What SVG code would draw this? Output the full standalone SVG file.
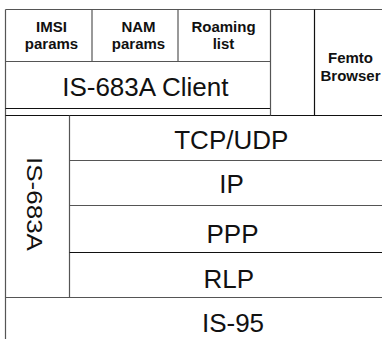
<svg xmlns="http://www.w3.org/2000/svg" width="382" height="339" viewBox="0 0 382 339">
<style>
.ln{stroke:#555;stroke-width:1.2;fill:none}
.dk{stroke:#111;stroke-width:1.2;fill:none}
.b{font-weight:bold;font-size:15px;fill:#111;text-anchor:middle}
.r{font-size:26px;fill:#111;text-anchor:middle}
</style>
<rect width="382" height="339" fill="#fff"/>
<g id="connectors">
<line class="ln" x1="5.5" y1="9.5" x2="382" y2="9.5"/>
<line class="ln" x1="5.5" y1="9.5" x2="5.5" y2="339"/>
<line class="ln" x1="92" y1="9.5" x2="92" y2="61.5"/>
<line class="ln" x1="178" y1="9.5" x2="178" y2="61.5"/>
<line class="ln" x1="5.5" y1="61.5" x2="270.5" y2="61.5"/>
<line class="dk" x1="5.5" y1="108.5" x2="270.5" y2="108.5"/>
<line class="dk" x1="5.5" y1="115.5" x2="382" y2="115.5"/>
<line class="ln" x1="270.5" y1="9.5" x2="270.5" y2="115.5"/>
<line class="dk" x1="314.5" y1="9.5" x2="314.5" y2="115.5"/>
<line class="ln" x1="69.5" y1="115.5" x2="69.5" y2="297.5"/>
<line class="ln" x1="69.5" y1="160.5" x2="382" y2="160.5"/>
<line class="ln" x1="69.5" y1="205.5" x2="382" y2="205.5"/>
<line class="dk" x1="69.5" y1="252.5" x2="382" y2="252.5"/>
<line class="ln" x1="5.5" y1="297.5" x2="382" y2="297.5"/>
</g>
<g font-family="Liberation Sans">
<g id="imsi"><text class="b" x="51.5" y="31.7">IMSI</text><text class="b" x="51.5" y="49.3">params</text></g>
<g id="nam"><text class="b" x="138.5" y="31.7">NAM</text><text class="b" x="138.5" y="49.3">params</text></g>
<g id="roaming"><text class="b" x="223.5" y="31.7">Roaming</text><text class="b" x="223.5" y="49.3">list</text></g>
<g id="femto"><text class="b" x="350.5" y="63.3">Femto</text><text class="b" x="350.5" y="81">Browser</text></g>
<g id="client"><text class="r" x="145.3" y="95.7">IS-683A Client</text></g>
<g id="is683a"><text class="r" transform="translate(27.3,204) rotate(90) scale(1,0.88)" x="0" y="0">IS-683A</text></g>
<g id="tcpudp"><text class="r" x="231.3" y="149.3">TCP/UDP</text></g>
<g id="ip"><text class="r" x="231.5" y="193.3">IP</text></g>
<g id="ppp"><text class="r" x="232.5" y="242.7">PPP</text></g>
<g id="rlp"><text class="r" x="228.7" y="288.3">RLP</text></g>
<g id="is95"><text class="r" x="233" y="332.3">IS-95</text></g>
</g>
</svg>
